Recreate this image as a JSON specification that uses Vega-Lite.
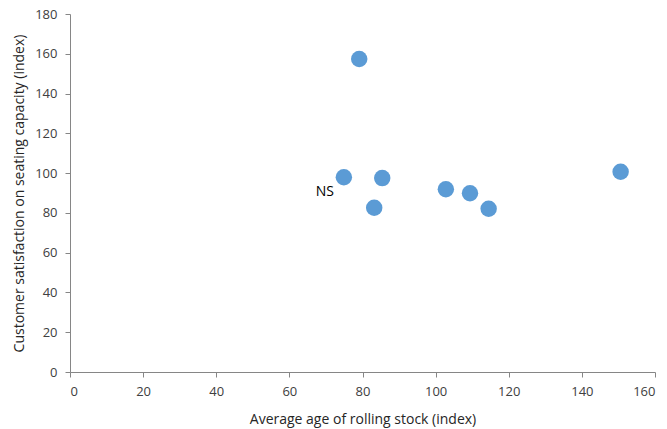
{
  "$schema": "https://vega.github.io/schema/vega-lite/v6.json",
  "autosize": {"type": "none"},
  "padding": {"left": 70, "top": 14, "right": 12, "bottom": 57},
  "width": 585,
  "height": 358,
  "background": "white",
  "config": {
    "view": {"stroke": null},
    "font": "Open Sans"
  },
  "data": {
    "values": [
      {"age": 79.1, "satisfaction": 157.4, "label": ""},
      {"age": 74.9, "satisfaction": 97.9, "label": "NS"},
      {"age": 85.4, "satisfaction": 97.5, "label": ""},
      {"age": 83.2, "satisfaction": 82.6, "label": ""},
      {"age": 102.8, "satisfaction": 91.9, "label": ""},
      {"age": 109.4, "satisfaction": 89.9, "label": ""},
      {"age": 114.5, "satisfaction": 82.1, "label": ""},
      {"age": 150.6, "satisfaction": 100.7, "label": ""}
    ]
  },
  "encoding": {
    "x": {
      "field": "age", "type": "quantitative",
      "scale": {"domain": [0, 160], "nice": false, "zero": true},
      "axis": {
        "title": "Average age of rolling stock (index)",
        "values": [0, 20, 40, 60, 80, 100, 120, 140, 160],
        "grid": false,
        "domainColor": "#868686", "tickColor": "#868686", "tickSize": 5,
        "labelColor": "#404040", "labelFontSize": 13, "labelPadding": 8,
        "titleColor": "#262626", "titleFontSize": 14, "titleFontWeight": "normal", "titlePadding": 14
      }
    },
    "y": {
      "field": "satisfaction", "type": "quantitative",
      "scale": {"domain": [0, 180], "nice": false},
      "axis": {
        "title": "Customer satisfaction on seating capacity (index)",
        "values": [0, 20, 40, 60, 80, 100, 120, 140, 160, 180],
        "grid": false,
        "domainColor": "#868686", "tickColor": "#868686", "tickSize": 5,
        "labelColor": "#404040", "labelFontSize": 13, "labelPadding": 8,
        "titleColor": "#262626", "titleFontSize": 14, "titleFontWeight": "normal", "titlePadding": 8
      }
    }
  },
  "layer": [
    {
      "mark": {"type": "circle", "size": 270, "color": "#5B9BD5", "opacity": 1}
    },
    {
      "mark": {"type": "text", "dx": -19, "dy": 15, "fontSize": 14, "color": "#000000", "font": "Open Sans"},
      "encoding": {"text": {"field": "label"}}
    }
  ]
}
